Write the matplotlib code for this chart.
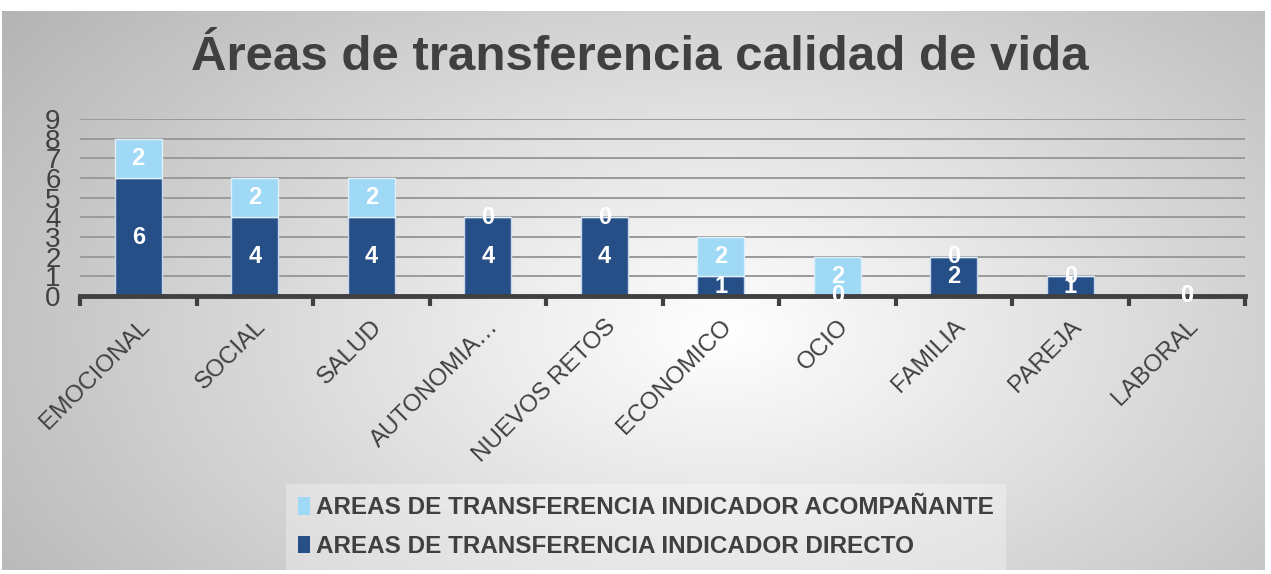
import numpy as np
import matplotlib
matplotlib.use("Agg")
import matplotlib.pyplot as plt
from matplotlib.patches import Patch

# data
categorias = ["EMOCIONAL", "SOCIAL", "SALUD", "AUTONOMIA…", "NUEVOS RETOS",
              "ECONOMICO", "OCIO", "FAMILIA", "PAREJA", "LABORAL"]
directo = [6, 4, 4, 4, 4, 1, 0, 2, 1, 0]
acompanante = [2, 2, 2, 0, 0, 2, 2, 0, 0, 0]

serie_directo = "AREAS DE TRANSFERENCIA INDICADOR DIRECTO"
serie_acomp = "AREAS DE TRANSFERENCIA INDICADOR ACOMPAÑANTE"
titulo = "Áreas de transferencia calidad de vida"

c_directo = "#264f88"
c_acomp = "#9fd9f6"
gris = "#404040"

plt.rcParams['font.family'] = ['Liberation Sans', 'DejaVu Sans']

W, H = 1271, 574
fig = plt.figure(figsize=(W / 100, H / 100), dpi=100)
fig.patch.set_facecolor("white")

# radial grey background
bg = fig.add_axes([2 / W, 4 / H, 1263 / W, (H - 15) / H])
yy, xx = np.mgrid[0:560, 0:1263]
d = np.sqrt(((xx - 720) / 700.0) ** 2 + ((yy - 320) / 420.0) ** 2)
v = np.clip(1 - 0.23 * d, 0, 1)
bg.imshow(np.dstack([v, v, v]), aspect="auto", interpolation="bilinear")
bg.axis("off")

ax = fig.add_axes([80 / W, (H - 296) / H, 1165 / W, 177 / H])
ax.set_facecolor("none")
x = np.arange(len(categorias))
b1 = ax.bar(x, directo, width=0.4, color=c_directo, edgecolor="#c8d8ea",
            linewidth=1, zorder=3, label=serie_directo)
b2 = ax.bar(x, acompanante, width=0.4, bottom=directo, color=c_acomp,
            edgecolor="#e0f0fa", linewidth=1, zorder=3, label=serie_acomp)

for i in range(len(categorias)):
    ax.text(x[i], directo[i] / 2, str(directo[i]), ha="center", va="center",
            color="white", fontsize=17, fontweight="bold", zorder=6, clip_on=False)
    ax.text(x[i], directo[i] + acompanante[i] / 2, str(acompanante[i]),
            ha="center", va="center", color="white", fontsize=17,
            fontweight="bold", zorder=6, clip_on=False)

ax.set_xlim(-0.5, len(categorias) - 0.5)
ax.set_ylim(0, 9)
ax.set_yticks(range(10))
ax.yaxis.grid(True, color="#9a9a9a", linewidth=1.4, zorder=0)
ax.set_axisbelow(True)
for s in ["top", "right", "left"]:
    ax.spines[s].set_visible(False)
ax.spines["bottom"].set_color(gris)
ax.spines["bottom"].set_linewidth(3.5)
ax.spines["bottom"].set_zorder(4)
ax.tick_params(axis="y", length=0, pad=14, labelsize=20, labelcolor=gris)

ax.set_xticks(x)
ax.set_xticklabels(categorias, rotation=45, ha="right", va="top",
                   rotation_mode="anchor", fontsize=17.5, color=gris)
ax.tick_params(axis="x", which="major", length=0, pad=14)
ax.set_xticks(np.arange(-0.5, len(categorias)), minor=True)
ax.tick_params(axis="x", which="minor", length=7, width=3, color=gris)

fig.text(640 / W, 1 - 58 / H, titulo, ha="center", va="center", fontsize=35.5,
         fontweight="bold", color=gris)

handles = [Patch(facecolor=c_acomp, label=serie_acomp),
           Patch(facecolor=c_directo, label=serie_directo)]
leg = fig.legend(handles=handles, loc="center",
                 bbox_to_anchor=(646 / W, 1 - 527 / H), frameon=True,
                 fancybox=False, handlelength=0.5, handleheight=0.75,
                 handletextpad=0.25, labelspacing=0.65, borderpad=0.5,
                 prop={"size": 17.5, "weight": "bold"})
leg.get_frame().set_facecolor("white")
leg.get_frame().set_alpha(0.3)
leg.get_frame().set_edgecolor("none")
for t in leg.get_texts():
    t.set_color(gris)

fig.savefig("out.png", dpi=100)
